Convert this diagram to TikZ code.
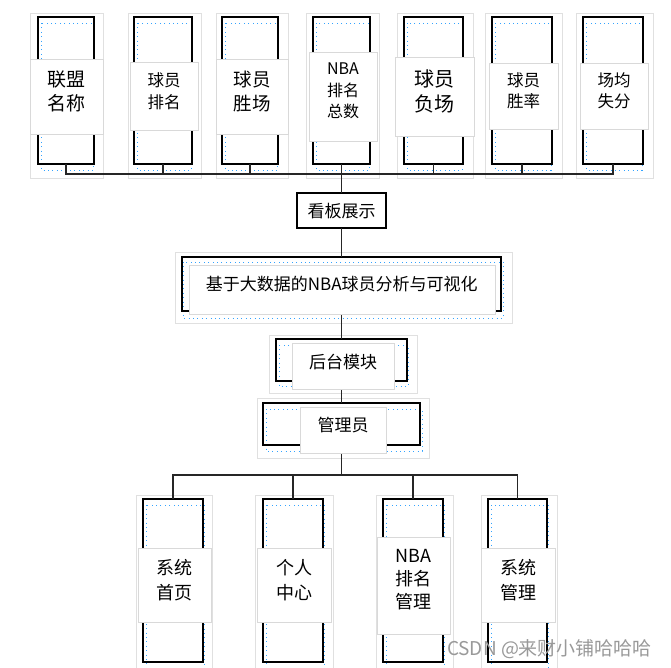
\documentclass[tikz,border=0pt]{standalone}
\usepackage{fontspec}
\newfontfamily\cjk{Noto Sans CJK SC}
\usetikzlibrary{fit}
\newcommand\myfs[2]{\fontsize{#1}{#2}\selectfont\cjk}
\tikzset{
 blk/.style={draw=black, line width=1.3pt, inner sep=0pt, outer sep=0pt},
 frm/.style={draw=black!12, line width=0.7pt},
 dots/.style={draw=blue!45!cyan!80, dash pattern=on 0.8pt off 3.6pt, line width=0.7pt},
 lab/.style={fill=white, draw=black!15, line width=0.7pt, inner sep=0pt},
 txt/.style={align=center, inner sep=0pt},
 conn/.style={draw=black!85, line width=1.2pt},
}
\begin{document}
\begin{tikzpicture}[x=1pt,y=-1pt]
\useasboundingbox[fill=white] (0,0) rectangle (671,667);
% ---------- top row: frames, dots, black boxes ----------
\foreach \fa/\fb/\ba/\bb in {30/103/38/94, 128/201/134/192, 216/288/222/278, 306/379/313/370, 397/473/404/463, 485/562/492/552, 576/653/583/643}{
  \draw[frm] (\fa,13) rectangle (\fb,178);
  \draw[dots] (\ba+3,23) rectangle (\bb-1,170);
}
\node[blk, fit={(38,17)(94,164)}] (t1) {};
\node[blk, fit={(134,17)(192,164)}] (t2) {};
\node[blk, fit={(222,17)(278,164)}] (t3) {};
\node[blk, fit={(313,17)(370,164)}] (t4) {};
\node[blk, fit={(404,17)(463,164)}] (t5) {};
\node[blk, fit={(492,17)(552,164)}] (t6) {};
\node[blk, fit={(583,17)(643,164)}] (t7) {};
% ---------- middle ----------
\node[blk, fit={(297,193)(386,228)}] (kb) {};
\draw[frm] (175,252) rectangle (512,323);
\draw[dots] (183,262) rectangle (503,318);
\node[blk, fit={(182,257)(501,311)}] (big) {};
\draw[frm] (269,335) rectangle (417,393);
\draw[dots] (279,345) rectangle (408,386);
\node[blk, fit={(276,339)(407,381)}] (ht) {};
\draw[frm] (257,398) rectangle (429,458);
\draw[dots] (266,409) rectangle (422,451);
\node[blk, fit={(263,403)(420,445)}] (gl) {};
% ---------- bottom row ----------
\foreach \fa/\fb/\ba/\bb in {136/212/143/203, 255/333/263/323, 376/453/383/443, 481/557/488/547}{
  \draw[frm] (\fa,495) rectangle (\fb,670);
  \draw[dots] (\ba+3,505) rectangle (\bb+1,668);
}
\node[blk, fit={(143,499)(203,662)}] (b1) {};
\node[blk, fit={(263,499)(323,662)}] (b2) {};
\node[blk, fit={(383,499)(443,662)}] (b3) {};
\node[blk, fit={(488,499)(547,662)}] (b4) {};
% ---------- connectors ----------
\coordinate (th) at (0,174);
\coordinate (bh) at (0,475);
\draw[conn] (t1.south) -- (t1.south |- th) -- (t7.south |- th) -- (t7.south);
\foreach \n in {t2,t3,t5,t6}{\draw[conn] (\n.south) -- (\n.south |- th);}
\draw[conn] (t4.south) -- (kb.north);
\draw[conn] (kb.south) -- (big.north);
\draw[conn] (big.south) -- (ht.north);
\draw[conn] (ht.south) -- (gl.north);
\draw[conn] (gl.south) -- (gl.south |- bh);
\draw[conn] (b1.north) -- (b1.north |- bh) -- (b4.north |- bh) -- (b4.north);
\foreach \n in {b2,b3}{\draw[conn] (\n.north) -- (\n.north |- bh);}
% ---------- label boxes ----------
\node[lab, fit={(30,59)(103,134)}] (l1) {};
\node[lab, fit={(130,62)(198,130)}] (l2) {};
\node[lab, fit={(216,59)(288,134)}] (l3) {};
\node[lab, fit={(309,52)(377,141)}] (l4) {};
\node[lab, fit={(395,57)(474,136)}] (l5) {};
\node[lab, fit={(489,63)(558,129)}] (l6) {};
\node[lab, fit={(580,63)(648,129)}] (l7) {};
\node[txt, font=\myfs{19}{24}] (x1) at (66.5,91) {联盟\\名称};
\node[txt, font=\myfs{16.5}{22}] (x2) at (164,91) {球员\\排名};
\node[txt, font=\myfs{18.5}{24}] (x3) at (252,91) {球员\\胜场};
\node[txt, font=\myfs{16}{21.5}] (x4) at (343,91) {NBA\\排名\\总数};
\node[txt, font=\myfs{20}{25}] (x5) at (434.5,91) {球员\\负场};
\node[txt, font=\myfs{16.5}{21}] (x6) at (523.5,91) {球员\\胜率};
\node[txt, font=\myfs{16.5}{21}] (x7) at (614,91) {场均\\失分};
\node[txt, font=\myfs{17}{20}] (xkb) at (341.5,211) {看板展示};
\node[lab, fit={(189,265)(495,314)}] (lbig) {};
\node[txt, font=\myfs{17}{20}] (xbig) at (341.7,284.5) {基于大数据的NBA球员分析与可视化};
\node[lab, fit={(292,343)(394,389)}] (lht) {};
\node[txt, font=\myfs{17}{20}] (xht) at (343,362) {后台模块};
\node[lab, fit={(300,407)(386,453)}] (lgl) {};
\node[txt, font=\myfs{17}{20}] (xgl) at (343,425) {管理员};
\node[lab, fit={(138,548)(211,622)}] (lb1) {};
\node[lab, fit={(257,548)(331,622)}] (lb2) {};
\node[lab, fit={(377,537)(450,634)}] (lb3) {};
\node[lab, fit={(481,548)(555,622)}] (lb4) {};
\node[txt, font=\myfs{18}{25}] (y1) at (174,580.5) {系统\\首页};
\node[txt, font=\myfs{18}{25}] (y2) at (294,580.5) {个人\\中心};
\node[txt, font=\myfs{18}{23}] (y3) at (413.5,580) {NBA\\排名\\管理};
\node[txt, font=\myfs{18}{25}] (y4) at (518,580.5) {系统\\管理};
% ---------- watermark ----------
\node[txt, font=\myfs{19}{20}, text=black!40] (wm) at (549.5,649) {CSDN @来财小铺哈哈哈};
\end{tikzpicture}
\end{document}
